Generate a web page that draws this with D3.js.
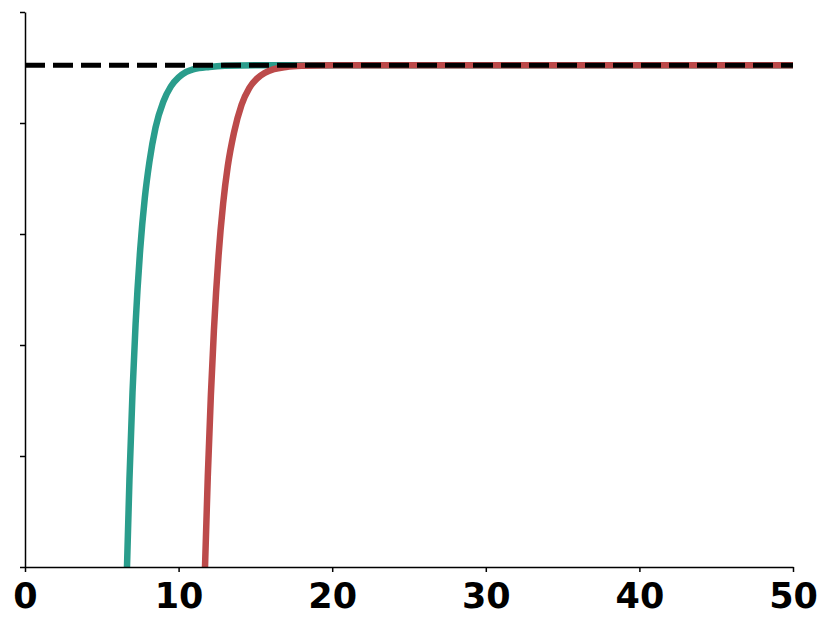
<!DOCTYPE html>
<html>
<head>
<meta charset="utf-8">
<script src="https://cdn.jsdelivr.net/npm/d3@7"></script>
<style>
  body { margin: 0; background: #fff; }
  svg { display: block; }
  .tick text { font-family: "DejaVu Sans", sans-serif; font-weight: bold; }
</style>
</head>
<body>
<svg id="chart" width="831" height="627"></svg>
<script>
// values (y in axis units, 0..1)
const tealX = [6.64, 6.8, 7.0, 7.2, 7.5, 7.8, 8.1, 8.5, 9.0, 9.5, 10, 10.5, 11, 12, 13, 15, 50]
const tealY = [0, 0.158, 0.315, 0.438, 0.572, 0.665, 0.730, 0.792, 0.838, 0.866, 0.882, 0.892, 0.897, 0.901, 0.903, 0.904, 0.904]

const redX = [11.72, 11.9, 12.1, 12.3, 12.6, 12.9, 13.2, 13.6, 14.1, 14.6, 15.1, 15.6, 16.2, 17, 18, 20, 50]
const redY = [0, 0.163, 0.309, 0.427, 0.561, 0.655, 0.722, 0.782, 0.833, 0.863, 0.880, 0.890, 0.897, 0.901, 0.903, 0.904, 0.904]

const plateau = 0.904
const xTicks = [0, 10, 20, 30, 40, 50]
const yTicks = [0, 0.2, 0.4, 0.6, 0.8, 1.0]

const margin = {left: 25, right: 38, top: 12, bottom: 60}
const svg = d3.select("#chart")
const W = +svg.attr("width"), H = +svg.attr("height")

const x = d3.scaleLinear().domain([0, 50]).range([margin.left, W - margin.right])
const y = d3.scaleLinear().domain([0, 1]).range([H - margin.bottom, margin.top])

const line = d3.line()
  .x(d => x(d[0]))
  .y(d => y(d[1]))
  .curve(d3.curveMonotoneX)

const series = [
  {xs: tealX, ys: tealY, color: "#2a9d8c"},
  {xs: redX, ys: redY, color: "#bc4a4a"},
]

series.forEach(s => {
  svg.append("path")
    .attr("d", line(s.xs.map((v, i) => [v, s.ys[i]])))
    .attr("fill", "none")
    .attr("stroke", s.color)
    .attr("stroke-width", 6.5)
})

// dashed plateau on top
svg.append("line")
  .attr("x1", x(0)).attr("x2", x(50))
  .attr("y1", y(plateau)).attr("y2", y(plateau))
  .attr("stroke", "black")
  .attr("stroke-width", 5)
  .attr("stroke-dasharray", "20,8")

const xAxis = svg.append("g")
  .attr("transform", `translate(0,${y(0)})`)
  .call(d3.axisBottom(x).tickValues(xTicks).tickSize(5).tickPadding(11).tickSizeOuter(0))
xAxis.selectAll("text").attr("font-size", 35).attr("fill", "black")

const yAxis = svg.append("g")
  .attr("transform", `translate(${x(0)},0)`)
  .call(d3.axisLeft(y).tickValues(yTicks).tickSize(5).tickFormat("").tickSizeOuter(0))

svg.selectAll(".domain, .tick line").attr("stroke", "black").attr("stroke-width", 1.5)
</script>
</body>
</html>
